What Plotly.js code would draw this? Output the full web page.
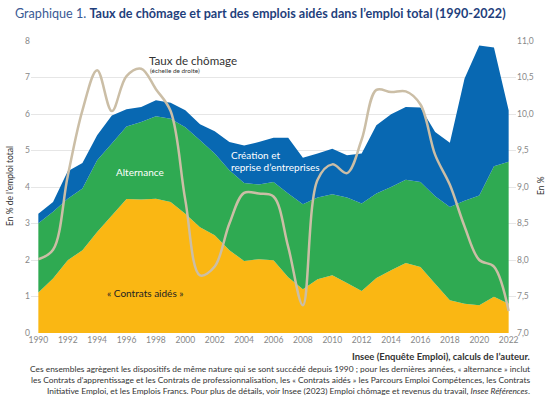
<!DOCTYPE html>
<html><head><meta charset="utf-8">
<script src="https://cdn.plot.ly/plotly-3.0.1.min.js"></script>
<style>html,body{margin:0;padding:0;background:#fff}#chart{width:550px;height:398px}</style>
</head><body><div id="chart"></div>
<script>
const years = [1990,1991,1992,1993,1994,1995,1996,1997,1998,1999,2000,2001,2002,2003,2004,2005,2006,2007,2008,2009,2010,2011,2012,2013,2014,2015,2016,2017,2018,2019,2020,2021,2022];
const contratsAides = [1.11,1.49,1.99,2.27,2.77,3.22,3.67,3.66,3.68,3.59,3.27,2.90,2.68,2.27,1.97,2.02,1.99,1.53,1.20,1.47,1.58,1.37,1.15,1.51,1.72,1.92,1.81,1.35,0.90,0.80,0.76,0.99,0.80];
const alternance = [1.90,1.83,1.69,1.69,1.96,1.97,1.99,2.12,2.26,2.28,2.37,2.38,2.24,2.19,2.14,2.05,2.15,2.29,2.33,2.24,2.22,2.34,2.40,2.31,2.28,2.28,2.33,2.40,2.55,2.82,3.01,3.58,3.89];
const creation = [0.26,0.27,0.75,0.70,0.69,0.77,0.47,0.41,0.44,0.44,0.46,0.44,0.61,0.77,1.03,1.16,1.21,1.53,1.27,1.21,1.25,1.16,1.37,1.87,1.99,1.99,2.04,1.76,1.76,3.35,4.11,3.25,1.41];
const chomage = [8.01,8.14,9.15,10.05,10.60,10.04,10.52,10.62,10.34,10.04,8.82,7.79,7.91,8.50,8.92,8.91,8.87,8.18,7.38,9.10,9.31,9.19,9.65,10.33,10.30,10.31,10.13,9.44,9.03,8.46,8.00,7.91,7.30];
const xTicks = [1990,1992,1994,1996,1998,2000,2002,2004,2006,2008,2010,2012,2014,2016,2018,2020,2022];

const W=550,H=398,L=31,R=34,T=41,B=65;
const pw=W-L-R, ph=H-T-B;
const px=x=>(x-L)/pw, py=y=>(H-B-y)/ph;
const F='Lato, "Noto Sans", sans-serif';

const traces = [
 {x:years,y:contratsAides,type:'scatter',mode:'none',stackgroup:'a',fillcolor:'#fab713',line:{width:0},name:'Contrats aidés'},
 {x:years,y:alternance,type:'scatter',mode:'none',stackgroup:'a',fillcolor:'#2faa52',line:{width:0},name:'Alternance'},
 {x:years,y:creation,type:'scatter',mode:'none',stackgroup:'a',fillcolor:'#0868b2',line:{width:0},name:'Création'},
 {x:years,y:chomage,type:'scatter',mode:'lines',yaxis:'y2',line:{color:'#cbbea6',width:2.5,shape:'spline',smoothing:1},name:'Chômage'}
];

function ann(text,x,y,o){return Object.assign({text:text,x:px(x),y:py(y),xref:'paper',yref:'paper',showarrow:false,xanchor:'center',yanchor:'middle',font:{family:F,size:10,color:'#333'}},o||{});}

const notes1='Ces ensembles agrègent les dispositifs de même nature qui se sont succédé depuis 1990 ; pour les dernières années, « alternance » inclut';
const notes2='les Contrats d’apprentissage et les Contrats de professionnalisation, les « Contrats aidés » les Parcours Emploi Compétences, les Contrats';
const notes3='Initiative Emploi, et les Emplois Francs. Pour plus de détails, voir Insee (2023) Emploi chômage et revenus du travail, <i>Insee Références</i>.';

const layout = {
 width:W,height:H,margin:{l:L,r:R,t:T,b:B},
 paper_bgcolor:'#fff',plot_bgcolor:'#fff',showlegend:false,
 separators:', ',
 font:{family:F,color:'#333'},
 title:{text:'<span style="color:#3a5a94">Graphique 1. </span><b>Taux de chômage et part des emplois aidés dans l’emploi total (1990-2022)</b>',
   x:15/W,xanchor:'left',xref:'container',y:1-14/H,yanchor:'middle',yref:'container',font:{family:F,size:12.6,color:'#1f3f7c'}},
 xaxis:{range:[1989.5,2022.5],tickvals:xTicks,showgrid:false,zeroline:false,showline:false,ticks:'',tickfont:{family:F,size:8.5,color:'#888'}},
 yaxis:{range:[0,8],dtick:1,showgrid:true,gridcolor:'#e6e6e6',gridwidth:1,zeroline:false,showline:false,ticks:'',tickfont:{family:F,size:8.5,color:'#888'}},
 yaxis2:{range:[7,11],dtick:0.5,tickformat:'.1f',overlaying:'y',side:'right',showgrid:false,zeroline:false,showline:false,ticks:'',tickfont:{family:F,size:8.5,color:'#888'}},
 annotations:[
  ann('En % de l’emploi total',10,186,{textangle:-90,font:{family:F,size:8.5,color:'#333'}}),
  ann('En %',541,186,{textangle:-90,font:{family:F,size:8.5,color:'#333'}}),
  ann('Taux de chômage',147,60,{xanchor:'left',font:{family:F,size:11.6,color:'#333'}}),
  ann('(échelle de droite)',148,71,{xanchor:'left',font:{family:F,size:6.4,color:'#333'}}),
  ann('Alternance',140,172,{font:{family:F,size:10,color:'#fff'}}),
  ann('Création et',229,155,{xanchor:'left',font:{family:F,size:10,color:'#fff'}}),
  ann('reprise d’entreprises',229,167,{xanchor:'left',font:{family:F,size:10,color:'#fff'}}),
  ann('« Contrats aidés »',145,293,{font:{family:F,size:10,color:'#222'}}),
  ann('<b>Insee (Enquête Emploi), calculs de l’auteur.</b>',532,357,{xanchor:'right',font:{family:F,size:9.5,color:'#333'}}),
  ann(notes1,532,369,{xanchor:'right',font:{family:F,size:8.4,color:'#333'}}),
  ann(notes2,532,380,{xanchor:'right',font:{family:F,size:8.4,color:'#333'}}),
  ann(notes3,532,391,{xanchor:'right',font:{family:F,size:8.4,color:'#333'}})
 ]
};
Plotly.newPlot('chart',traces,layout,{staticPlot:true,displayModeBar:false});
</script></body></html>
